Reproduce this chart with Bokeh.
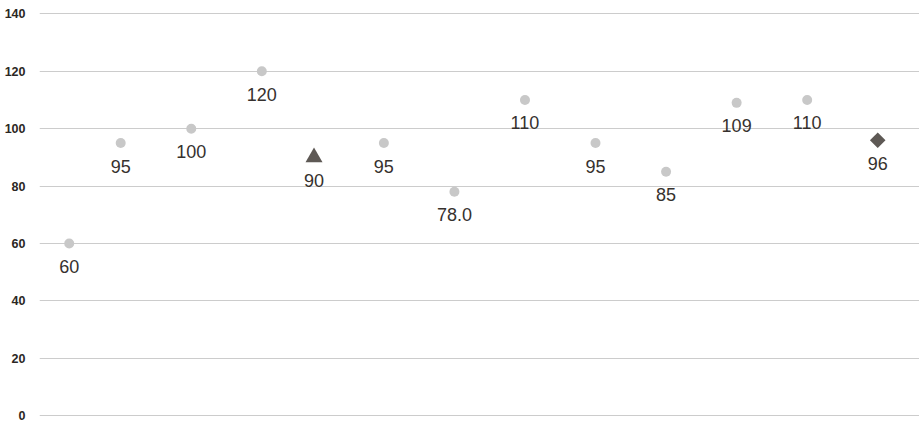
from bokeh.plotting import figure
from bokeh.models import Range1d, FixedTicker, ColumnDataSource
from bokeh.core.properties import value
from bokeh.embed import file_html
from bokeh.resources import INLINE

# Horizontal slot of each observation along the (hidden) x axis
positions = [0, 0.73, 1.73, 2.73, 3.47, 4.46, 5.46, 6.46, 7.46, 8.46, 9.46, 10.46, 11.46]
values = [60, 95, 100, 120, 90, 95, 78.0, 110, 95, 85, 109, 110, 96]
labels = ["60", "95", "100", "120", "90", "95", "78.0", "110", "95", "85", "109", "110", "96"]
kinds = ["dot", "dot", "dot", "dot", "tri", "dot", "dot", "dot", "dot", "dot", "dot", "dot", "dia"]
y_ticks = [0, 20, 40, 60, 80, 100, 120, 140]

FONT = "Liberation Sans"

p = figure(width=919, height=422, output_backend="svg", toolbar_location=None,
           x_range=Range1d(-0.421, 12.052), y_range=Range1d(-2.35, 144.65),
           min_border_left=39, min_border_right=0, min_border_top=0, min_border_bottom=0)
p.outline_line_color = None
p.background_fill_color = "white"
p.border_fill_color = "white"

p.xaxis.visible = False
p.xgrid.grid_line_color = None

p.yaxis.ticker = FixedTicker(ticks=y_ticks)
p.yaxis.axis_line_color = None
p.yaxis.major_tick_line_color = None
p.yaxis.minor_tick_line_color = None
p.yaxis.major_label_standoff = 8
p.yaxis.major_label_text_font = FONT
p.yaxis.major_label_text_font_style = "bold"
p.yaxis.major_label_text_font_size = "12.5px"
p.yaxis.major_label_text_color = "#2b2724"
p.ygrid.ticker = FixedTicker(ticks=y_ticks)
p.ygrid.grid_line_color = "#cccccc"
p.ygrid.grid_line_width = 1


def subset(kind):
    idx = [i for i, k in enumerate(kinds) if k == kind]
    return ColumnDataSource(dict(x=[positions[i] for i in idx], y=[values[i] for i in idx]))


p.scatter("x", "y", source=subset("dot"), marker="circle", size=10,
          fill_color="#c8c8c8", line_color=None)
p.scatter("x", "y", source=subset("tri"), marker="triangle", size=17,
          fill_color="#5e5955", line_color=None)
p.scatter("x", "y", source=subset("dia"), marker="square", size=11, angle=0.785398,
          fill_color="#5e5955", line_color=None)

label_src = ColumnDataSource(dict(x=positions, y=values, t=labels))
p.text("x", "y", text="t", source=label_src, text_font=value(FONT),
       text_font_size="18px", text_color="#36312e", text_align="center",
       text_baseline="middle", y_offset=23)

open("out.html", "w").write(file_html(p, INLINE))
